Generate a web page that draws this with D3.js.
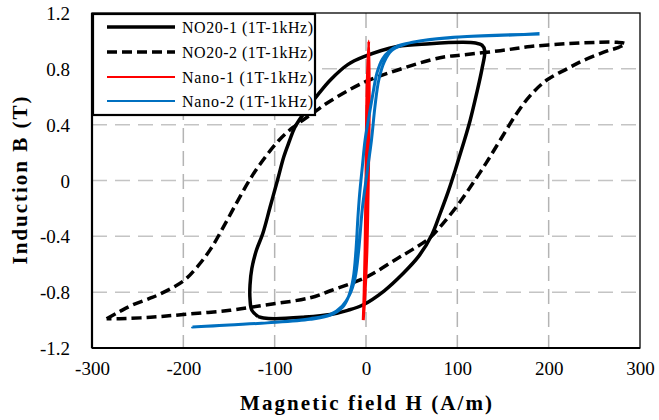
<!DOCTYPE html>
<html>
<head>
<meta charset="utf-8">
<script src="https://cdn.jsdelivr.net/npm/d3@7"></script>
<style>
  body { margin: 0; background: #fff; }
  svg { display: block; }
  text { font-family: "Liberation Serif", "DejaVu Serif", "Tinos", "Times New Roman", "Noto Serif", serif; }
</style>
</head>
<body>
<div id="chart"></div>
<script>
// series names (legend order)
let seriesNames = ["NO20-1 (1T-1kHz)", "NO20-2 (1T-1kHz)", "Nano-1 (1T-1kHz)", "Nano-2 (1T-1kHz)"];

// axis ticks
let xTicks = [-300, -200, -100, 0, 100, 200, 300];
let yTicks = [-1.2, -0.8, -0.4, 0, 0.4, 0.8, 1.2];

// NO20-1 loop, H (A/m) and B (T)
let no201H = [-118, -125, -127, -127, -125, -120, -113, -105, -97, -90, -84, -78, -66, -52, -39, -20, -3, 34, 70, 106, 120, 127, 130, 127, 121, 114, 106, 98, 90, 81, 72, 58, 40, 20, -3, -20, -39, -70, -100, -112, -118];
let no201B = [-0.975, -0.93, -0.85, -0.75, -0.63, -0.50, -0.38, -0.19, 0, 0.17, 0.28, 0.38, 0.50, 0.62, 0.72, 0.83, 0.885, 0.96, 0.98, 0.99, 0.985, 0.97, 0.93, 0.80, 0.62, 0.43, 0.25, 0.08, -0.08, -0.24, -0.39, -0.54, -0.67, -0.79, -0.89, -0.93, -0.96, -0.98, -0.99, -0.985, -0.975];

// NO20-2 loop
let no202H = [-284, -270, -255, -237, -226, -200, -185, -170, -155, -140, -125, -110, -95, -80, -61, -39, 0, 34, 81, 106, 147, 180, 220, 253, 275, 284, 275, 265, 238, 220, 198, 180, 165, 147, 132, 117, 100, 84, 70, 52, 34, 1, -39, -61, -108, -149, -200, -236, -270, -284];
let no202B = [-0.99, -0.94, -0.89, -0.845, -0.815, -0.72, -0.62, -0.49, -0.32, -0.14, 0.03, 0.17, 0.29, 0.38, 0.47, 0.57, 0.71, 0.79, 0.88, 0.90, 0.93, 0.96, 0.98, 0.99, 0.99, 0.98, 0.95, 0.93, 0.86, 0.80, 0.72, 0.61, 0.48, 0.29, 0.13, -0.02, -0.18, -0.31, -0.41, -0.49, -0.56, -0.69, -0.79, -0.84, -0.89, -0.93, -0.96, -0.98, -0.99, -0.99];

// Nano-1 loop
let nano1H = [-3, -1, 1, 2.5, 3.5, 3, 1, 0, -1, -2, -3];
let nano1B = [-1.0, -0.8, -0.5, 0, 0.5, 1.0, 0.6, 0, -0.5, -0.8, -1.0];

// Nano-2 loop
let nano2H = [190, 150, 106, 70, 51, 35, 26, 18, 12, 7, 3, -1, -4, -7, -9, -11, -14, -19, -26, -39, -61, -108, -150, -190, -150, -108, -61, -39, -26, -18, -12, -8, -4, 1, 6, 10, 14, 20, 28, 40, 55, 106, 190];
let nano2B = [1.05, 1.04, 1.03, 1.01, 0.99, 0.965, 0.93, 0.87, 0.77, 0.60, 0.45, 0.29, 0.10, -0.10, -0.28, -0.50, -0.70, -0.83, -0.91, -0.965, -0.995, -1.02, -1.035, -1.05, -1.035, -1.02, -0.99, -0.96, -0.90, -0.82, -0.70, -0.50, -0.20, 0.05, 0.29, 0.54, 0.72, 0.85, 0.93, 0.97, 0.995, 1.03, 1.05];

let colors = ["#000000", "#000000", "#ff0000", "#0070c0"];
let dashes = [null, "10,5", null, null];
let widths = [3.5, 3.5, 3, 3];

let series = [
    { name: seriesNames[0], h: no201H, b: no201B },
    { name: seriesNames[1], h: no202H, b: no202B },
    { name: seriesNames[2], h: nano1H, b: nano1B },
    { name: seriesNames[3], h: nano2H, b: nano2B }
];

let margin = { top: 13, right: 19, bottom: 72, left: 92 };
let width = 659 - margin.left - margin.right;
let height = 420 - margin.top - margin.bottom;

let svg = d3.select('#chart')
    .append('svg')
        .attr('width', 659)
        .attr('height', 420);

let g = svg.append('g')
    .attr('transform', "translate(" + margin.left + "," + margin.top + ")");

let x = d3.scaleLinear().domain([-300, 300]).range([0, width]);
let y = d3.scaleLinear().domain([-1.2, 1.2]).range([height, 0]);

// grid
g.append('g').selectAll('line')
    .data(xTicks.slice(1, -1))
    .enter().append('line')
        .attr('x1', d => x(d)).attr('x2', d => x(d))
        .attr('y1', 0).attr('y2', height)
        .attr('stroke', '#b4b4b4')
        .attr('stroke-width', 1.5)
        .attr('stroke-dasharray', '15,8');

g.append('g').selectAll('line')
    .data(yTicks.slice(1, -1))
    .enter().append('line')
        .attr('x1', 0).attr('x2', width)
        .attr('y1', d => y(d)).attr('y2', d => y(d))
        .attr('stroke', '#c4c4c4')
        .attr('stroke-width', 1.5)
        .attr('stroke-dasharray', '15,8');

// axes (labels only)
let xAxis = d3.axisBottom(x).tickValues(xTicks).tickSize(0).tickPadding(14)
    .tickFormat(d => String(d).replace('\u2212', '-'));
let xAxisGroup = g.append('g')
    .attr('transform', "translate(0," + height + ")")
    .call(xAxis);

let yAxis = d3.axisLeft(y).tickValues(yTicks).tickSize(0).tickPadding(22)
    .tickFormat(d => String(d).replace('\u2212', '-'));
let yAxisGroup = g.append('g').call(yAxis);

[xAxisGroup, yAxisGroup].forEach(function (a) {
    a.select('.domain').remove();
    a.attr('font-family', null);
    a.selectAll('text')
        .attr('font-size', '19px')
        .attr('fill', '#000');
});
yAxisGroup.selectAll('text').attr('dy', '0.35em');
xAxisGroup.selectAll('text').attr('dy', '0.71em');

// curves
let line = d3.line()
    .x(d => x(d[0]))
    .y(d => y(d[1]))
    .curve(d3.curveCatmullRom.alpha(0.5));

series.forEach(function (s, i) {
    let pts = s.h.map((h, k) => [h, s.b[k]]);
    g.append('path')
        .datum(pts)
        .attr('d', line)
        .attr('fill', 'none')
        .attr('stroke', colors[i])
        .attr('stroke-width', widths[i])
        .attr('stroke-dasharray', dashes[i])
        .attr('stroke-linejoin', 'round');
});

// frame
g.append('rect')
    .attr('x', 0).attr('y', 0)
    .attr('width', width).attr('height', height)
    .attr('fill', 'none')
    .attr('stroke', '#000')
    .attr('stroke-width', 1.3);
g.append('line').attr('x1', 0).attr('x2', 0).attr('y1', 0).attr('y2', height)
    .attr('stroke', '#000').attr('stroke-width', 2.2);
g.append('line').attr('x1', 0).attr('x2', width).attr('y1', height).attr('y2', height)
    .attr('stroke', '#000').attr('stroke-width', 2.2);

// legend
let legend = g.append('g');
legend.append('rect')
    .attr('x', 1).attr('y', 1)
    .attr('width', 222).attr('height', 101)
    .attr('fill', '#fff')
    .attr('stroke', '#000')
    .attr('stroke-width', 2.2);

let rowY = [14, 39, 64, 88];
let legendWidths = [3.5, 3.5, 2, 2];
series.forEach(function (s, i) {
    legend.append('line')
        .attr('x1', 15).attr('x2', 83)
        .attr('y1', rowY[i]).attr('y2', rowY[i])
        .attr('stroke', colors[i])
        .attr('stroke-width', legendWidths[i])
        .attr('stroke-dasharray', dashes[i]);
    legend.append('text')
        .attr('x', 90)
        .attr('y', rowY[i])
        .attr('dy', '0.35em')
        .attr('font-size', '16px')
        .attr('textLength', 131)
        .attr('lengthAdjust', 'spacing')
        .text(s.name);
});

// X Label
svg.append('text')
    .attr('x', margin.left + width / 2)
    .attr('y', 410)
    .attr('font-size', '21px')
    .attr('font-weight', 'bold')
    .attr('text-anchor', 'middle')
    .attr('textLength', 252)
    .attr('lengthAdjust', 'spacing')
    .text("Magnetic field H (A/m)");

// Y Label
svg.append('text')
    .attr('x', -(margin.top + height / 2))
    .attr('y', 27)
    .attr('font-size', '21px')
    .attr('font-weight', 'bold')
    .attr('text-anchor', 'middle')
    .attr('transform', 'rotate(-90)')
    .attr('textLength', 168)
    .attr('lengthAdjust', 'spacing')
    .text("Induction B (T)");
</script>
</body>
</html>
